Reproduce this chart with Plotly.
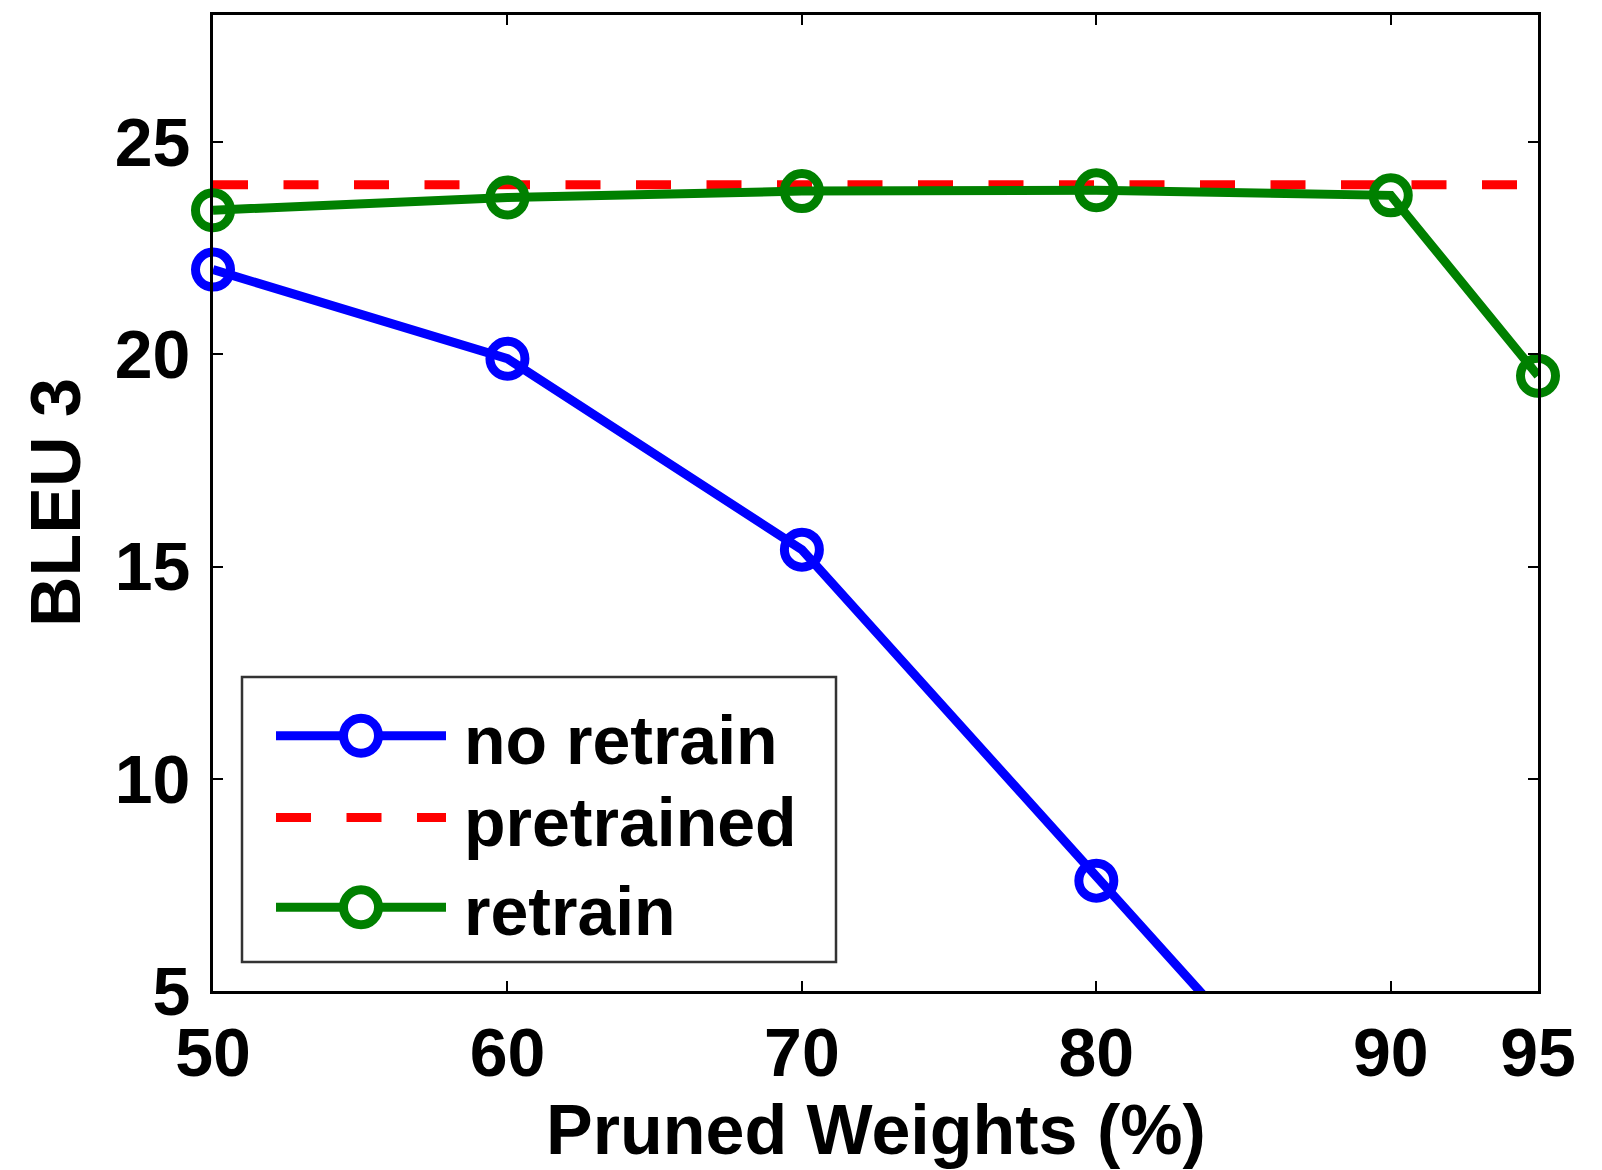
import plotly.graph_objects as go

# ---- data ----
pruned = [50, 60, 70, 80, 90]
no_retrain = [22.0, 19.9, 15.4, 7.6, 0.0]
retrain_x = [50, 60, 70, 80, 90, 95]
retrain = [23.4, 23.7, 23.85, 23.87, 23.75, 19.5]
pretrained_x = [50, 95]
pretrained = [24.0, 24.0]
x_ticks = [50, 60, 70, 80, 90, 95]
y_ticks = [5, 10, 15, 20, 25]
series_names = ["no retrain", "pretrained", "retrain"]

BLUE = "#0000FF"
RED = "#FF0000"
GREEN = "#008000"
FONT = "Liberation Sans, Arial, Helvetica, sans-serif"

OFF = 8  # page body margin
W, H = 1602 - OFF, 1170 - OFF
PL, PR, PT, PB = 213, 1538, 12, 991  # target plot area in page pixels
L = PL - OFF
T = PT - OFF
R = OFF + W - PR
B = OFF + H - PB
plot_w = PR - PL
plot_h = PB - PT


def px_x(p):
    return (p - PL) / plot_w


def px_y(p):
    return (PB - p) / plot_h


fig = go.Figure()
fig.add_trace(go.Scatter(
    x=pruned, y=no_retrain, mode="lines+markers", name=series_names[0],
    line=dict(color=BLUE, width=9),
    marker=dict(symbol="circle-open", size=35, color=BLUE, line=dict(width=9, color=BLUE)),
    cliponaxis=False, showlegend=False))
fig.add_trace(go.Scatter(
    x=pretrained_x, y=pretrained, mode="lines", name=series_names[1],
    line=dict(color=RED, width=9, dash="35px,35.5px"), showlegend=False))
fig.add_trace(go.Scatter(
    x=retrain_x, y=retrain, mode="lines+markers", name=series_names[2],
    line=dict(color=GREEN, width=9),
    marker=dict(symbol="circle-open", size=35, color=GREEN, line=dict(width=9, color=GREEN)),
    cliponaxis=False, showlegend=False))

axis_common = dict(
    showline=True, linecolor="black", linewidth=3, mirror="ticks",
    ticks="inside", ticklen=10, tickwidth=2, tickcolor="black",
    showgrid=False, zeroline=False,
    tickfont=dict(family=FONT, size=68, color="black", weight="bold"),
)
fig.update_xaxes(range=[50, 95], tickmode="array", tickvals=x_ticks,
                 ticktext=[str(v) for v in x_ticks], ticklabelstandoff=0, **axis_common)
fig.update_yaxes(range=[5, 28], tickmode="array", tickvals=y_ticks,
                 ticktext=[str(v) for v in y_ticks], ticklabelstandoff=6, **axis_common)

shapes = []
annotations = []

# legend box
shapes.append(dict(type="rect", xref="paper", yref="paper",
                   x0=px_x(242), x1=px_x(836), y0=px_y(962), y1=px_y(676),
                   line=dict(color="#333333", width=2.5), fillcolor="white", layer="above"))
rows = [(735, BLUE, "solid", True), (817, RED, "dash", False), (907, GREEN, "solid", True)]
for (py, col, style, mk), name in zip(rows, series_names):
    shapes.append(dict(type="line", xref="paper", yref="paper",
                       x0=px_x(276), x1=px_x(446), y0=px_y(py), y1=px_y(py),
                       line=dict(color=col, width=9, dash="35px,35.5px" if style == "dash" else "solid"),
                       layer="above"))
    if mk:
        shapes.append(dict(type="circle", xref="paper", yref="paper",
                           xsizemode="pixel", ysizemode="pixel",
                           xanchor=px_x(361), yanchor=px_y(py),
                           x0=-17.5, x1=17.5, y0=-17.5, y1=17.5,
                           line=dict(color=col, width=9), fillcolor="white", layer="above"))
    annotations.append(dict(xref="paper", yref="paper", x=px_x(462), y=px_y(py + 4),
                            xanchor="left", yanchor="middle", showarrow=False, text=name,
                            font=dict(family=FONT, size=68, color="black", weight="bold")))

# axis titles
annotations.append(dict(xref="paper", yref="paper", x=0.5, y=px_y(1130),
                        xanchor="center", yanchor="middle", showarrow=False,
                        text="Pruned Weights (%)",
                        font=dict(family=FONT, size=70, color="black", weight="bold")))
annotations.append(dict(xref="paper", yref="paper", x=px_x(56), y=0.5,
                        xanchor="center", yanchor="middle", showarrow=False,
                        text="BLEU 3", textangle=-90,
                        font=dict(family=FONT, size=70, color="black", weight="bold")))

fig.update_layout(
    width=W, height=H,
    margin=dict(l=L, r=R, t=T, b=B, pad=0),
    paper_bgcolor="white", plot_bgcolor="white",
    showlegend=False,
    shapes=shapes, annotations=annotations,
)

fig.write_html("out.html")
